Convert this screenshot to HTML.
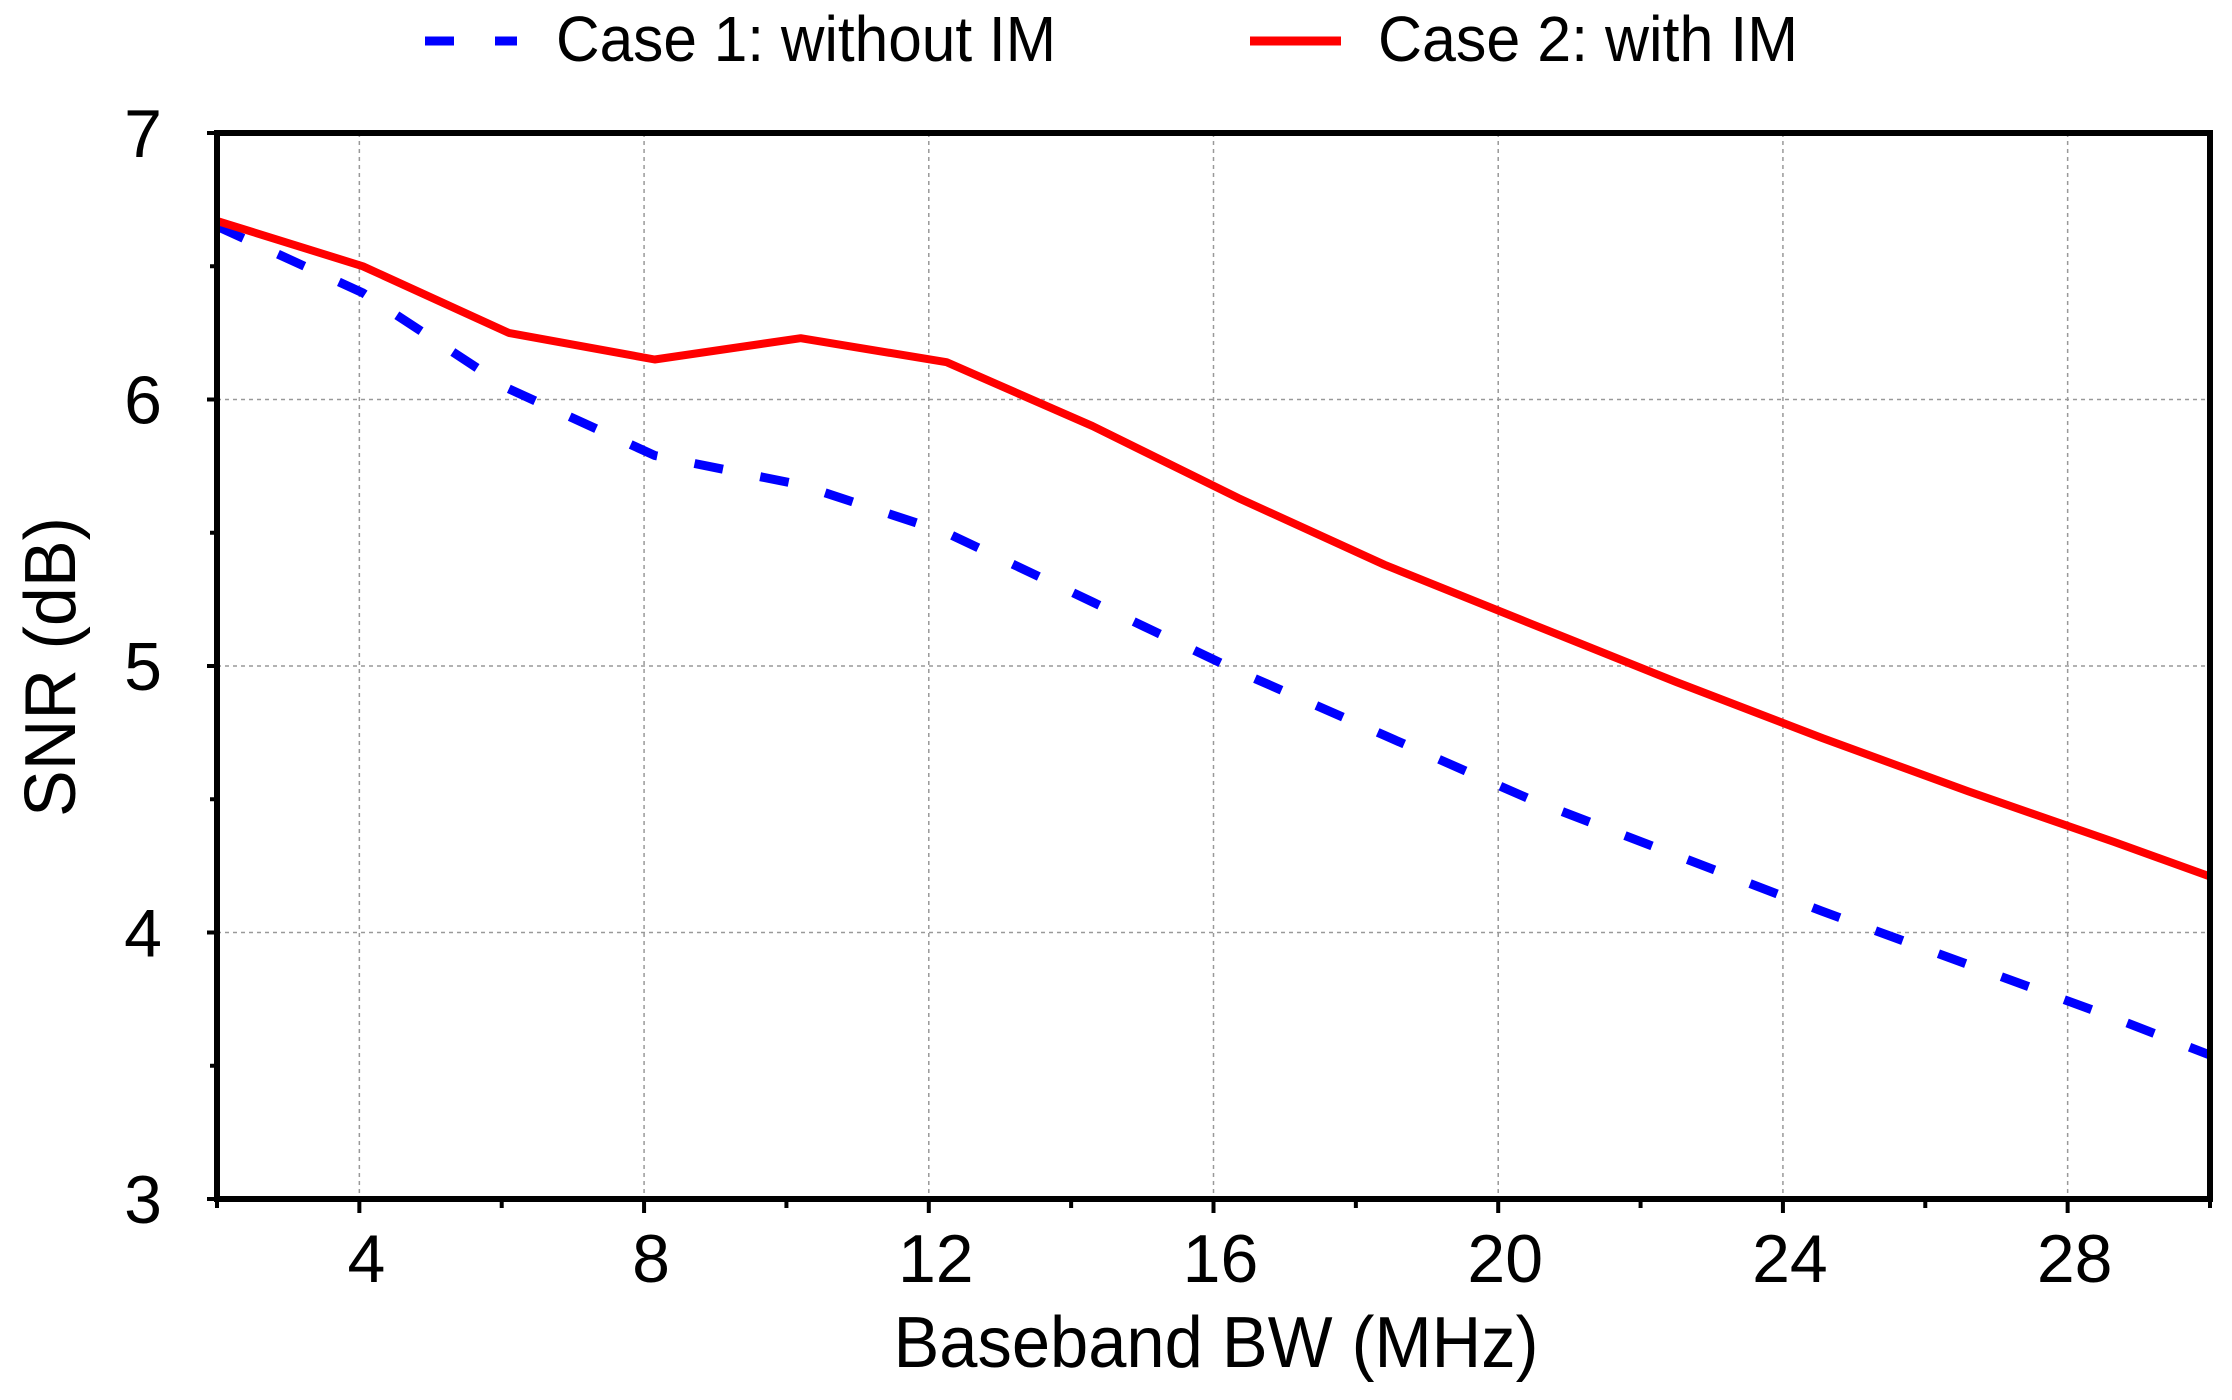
<!DOCTYPE html>
<html><head><meta charset="utf-8"><style>
html,body{margin:0;padding:0;background:#fff;}
svg{display:block;font-family:"Liberation Sans",Arial,sans-serif;}
</style></head>
<body>
<svg id="chart" width="2232" height="1400" viewBox="0 0 2232 1400">
<g id="grid"></g>
<g id="series"></g>
<g id="axes"></g>
<g id="legend">
  <line x1="425" y1="41" x2="517" y2="41" stroke="#0000ff" stroke-width="9" stroke-dasharray="29 41"/>
  <text x="556" y="61" font-size="64" textLength="500" lengthAdjust="spacingAndGlyphs">Case 1: without IM</text>
  <line x1="1250" y1="41" x2="1341" y2="41" stroke="#ff0000" stroke-width="9"/>
  <text x="1378" y="61" font-size="64" textLength="420" lengthAdjust="spacingAndGlyphs">Case 2: with IM</text>
</g>
<text x="1216" y="1367" font-size="72" text-anchor="middle" textLength="645" lengthAdjust="spacingAndGlyphs">Baseband BW (MHz)</text>
<text transform="translate(75,667) rotate(-90)" font-size="72" text-anchor="middle" textLength="300" lengthAdjust="spacingAndGlyphs">SNR (dB)</text>
</svg>
<script>
const bwValues = [2,4.05,6.1,8.15,10.2,12.25,14.3,16.35,18.4,20.45,22.5,24.55,26.6,28.65,30];
const case1Values = [6.65,6.40,6.04,5.79,5.68,5.50,5.24,4.98,4.74,4.50,4.29,4.08,3.88,3.68,3.54];
const case2Values = [6.67,6.50,6.25,6.15,6.23,6.14,5.90,5.63,5.38,5.16,4.94,4.73,4.53,4.34,4.21];
const xTickLabels = [4,8,12,16,20,24,28];
const xMinorTicks = [2,6,10,14,18,22,26,30];
const yTickLabels = [3,4,5,6,7];
const yMinorTicks = [3.5,4.5,5.5,6.5];

const X0=217,X1=2210,Y0=1199,Y1=133;
const xMin=2,xMax=30,yMin=3,yMax=7;
function xs(v){return X0+(v-xMin)/(xMax-xMin)*(X1-X0);}
function ys(v){return Y0-(v-yMin)/(yMax-yMin)*(Y0-Y1);}
const NS="http://www.w3.org/2000/svg";
function mk(tag,attrs,parent){const e=document.createElementNS(NS,tag);for(const k in attrs)e.setAttribute(k,attrs[k]);parent.appendChild(e);return e;}
const grid=document.getElementById('grid'),axes=document.getElementById('axes'),series=document.getElementById('series');

xTickLabels.forEach(v=>{
  const g=mk('line',{x1:xs(v),x2:xs(v),y1:Y1,y2:Y0,stroke:'#999',"stroke-width":1.5,"stroke-dasharray":"4 4"},grid);
  
  
  const t=mk('line',{x1:xs(v),x2:xs(v),y1:Y0,y2:Y0+14,stroke:'#000',"stroke-width":4},axes);
  
  
  const l=mk('text',{x:xs(v)+7,y:1282,"font-size":68,"text-anchor":"middle"},axes);
  l.textContent=v;
  
  
});
xMinorTicks.forEach(v=>{
  const t=mk('line',{x1:xs(v),x2:xs(v),y1:Y0,y2:Y0+9,stroke:'#000',"stroke-width":4},axes);
  
  
});
yTickLabels.forEach(v=>{
  if(v>yMin&&v<yMax){
    const g=mk('line',{x1:X0,x2:X1,y1:ys(v),y2:ys(v),stroke:'#999',"stroke-width":1.5,"stroke-dasharray":"4 4"},grid);
    
    
  }
  const t=mk('line',{x1:X0-10,x2:X0,y1:ys(v),y2:ys(v),stroke:'#000',"stroke-width":4},axes);
  
  
  const l=mk('text',{x:162,y:ys(v)+24,"font-size":68,"text-anchor":"end"},axes);
  l.textContent=v;
  
  
});
yMinorTicks.forEach(v=>{
  const t=mk('line',{x1:X0-7,x2:X0,y1:ys(v),y2:ys(v),stroke:'#000',"stroke-width":4},axes);
  
  
});

function pts(vals){return bwValues.map((x,i)=>xs(x).toFixed(1)+','+ys(vals[i]).toFixed(1)).join(' ');}
const l1=mk('polyline',{points:pts(case1Values),fill:'none',stroke:'#0000ff',"stroke-width":9,"stroke-dasharray":"29 38"},series);


const l2=mk('polyline',{points:pts(case2Values),fill:'none',stroke:'#ff0000',"stroke-width":8,"stroke-linejoin":"round"},series);



const frame=mk('rect',{x:X0,y:Y1,width:X1-X0,height:Y0-Y1,fill:'none',stroke:'#000',"stroke-width":6},axes);


</script>
</body></html>
